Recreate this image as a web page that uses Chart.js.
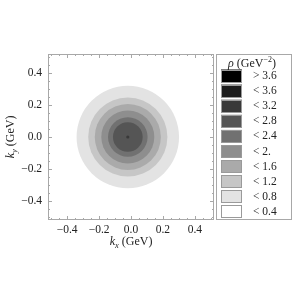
<!DOCTYPE html>
<html>
<head>
<meta charset="utf-8">
<script src="https://cdn.jsdelivr.net/npm/chart.js@4.4.1/dist/chart.umd.min.js"></script>
<style>
  html, body { margin: 0; padding: 0; background: #fff; }
  #wrap { width: 300px; height: 300px; }
</style>
</head>
<body>
<div id="wrap"><canvas id="chart" width="300" height="300"></canvas></div>
<script>
// contour levels of rho and radius (GeV) where each contour sits, outer to inner
const contourLevels = [0.4, 0.8, 1.2, 1.6, 2.0, 2.4, 2.8];
const contourRadii = [0.321, 0.248, 0.207, 0.166, 0.124, 0.093, 0.010];
const centerKx = -0.02;
const centerKy = 0.0;

// legend bands, top to bottom
const legendLabels = ['> 3.6', '< 3.6', '< 3.2', '< 2.8', '< 2.4', '< 2.', '< 1.6', '< 1.2', '< 0.8', '< 0.4'];
const legendColors = ['#000000', '#1c1c1c', '#393939', '#555555', '#717171', '#8e8e8e', '#aaaaaa', '#c6c6c6', '#e3e3e3', '#ffffff'];
const bandUpper = [99, 3.6, 3.2, 2.8, 2.4, 2.0, 1.6, 1.2, 0.8, 0.4];

const xTicks = [-0.4, -0.2, 0, 0.2, 0.4];
const yTicks = [-0.4, -0.2, 0, 0.2, 0.4];
const axisMin = -0.52;
const axisMax = 0.52;

const SERIF = '"Liberation Serif", "DejaVu Serif", serif';
const FRAME = '#a8a8a8';

// disc inside contour L is coloured by the band just above L
function discColor(level) {
    const i = bandUpper.findIndex(u => Math.abs(u - (level + 0.4)) < 1e-6);
    return legendColors[i];
}

const discs = contourLevels.map((lvl, i) => ({ x: centerKx, y: centerKy, rad: contourRadii[i], lvl: lvl }));

function discRadius(ctx) {
    const s = ctx.chart.scales.x;
    if (!s || !ctx.raw) return 0;
    return Math.abs(s.getPixelForValue(ctx.raw.x + ctx.raw.rad) - s.getPixelForValue(ctx.raw.x));
}

function fmtTick(v) {
    if (Math.abs(v) < 1e-9) return '0.0';
    return v.toFixed(1).replace('-', '\u2212');
}

// text with italic k and a subscript
function drawKTitle(c, sub, x, y) {
    const f1 = 'italic 12px ' + SERIF;
    const f2 = 'italic 8.5px ' + SERIF;
    const f3 = '12px ' + SERIF;
    c.font = f1; const w1 = c.measureText('k').width;
    c.font = f2; const w2 = c.measureText(sub).width;
    c.font = f3; const w3 = c.measureText(' (GeV)').width;
    let px = x - (w1 + w2 + w3) / 2;
    c.textBaseline = 'alphabetic';
    c.textAlign = 'left';
    c.font = f1; c.fillText('k', px, y); px += w1;
    c.font = f2; c.fillText(sub, px, y + 2.5); px += w2;
    c.font = f3; c.fillText(' (GeV)', px, y);
}

const framePlugin = {
    id: 'frame',
    afterDraw(chart) {
        const c = chart.ctx;
        const a = chart.chartArea;
        const sx = chart.scales.x, sy = chart.scales.y;
        c.save();
        // frame
        c.strokeStyle = FRAME;
        c.lineWidth = 1;
        c.strokeRect(Math.round(a.left) + 0.5, Math.round(a.top) + 0.5, Math.round(a.right - a.left) - 1, Math.round(a.bottom - a.top) - 1);
        // inward ticks, majors plus three minors in between
        const marks = [];
        xTicks.forEach(v => marks.push([v, 4]));
        for (let k = -10; k <= 10; k++) {
            const v = k * 0.05;
            if (Math.abs(v / 0.2 - Math.round(v / 0.2)) > 1e-6) marks.push([v, 2]);
        }
        c.beginPath();
        marks.forEach(([v, len]) => {
            const px = Math.round(sx.getPixelForValue(v)) + 0.5;
            c.moveTo(px, a.bottom); c.lineTo(px, a.bottom - len);
            c.moveTo(px, a.top); c.lineTo(px, a.top + len);
            const py = Math.round(sy.getPixelForValue(v)) + 0.5;
            c.moveTo(a.left, py); c.lineTo(a.left + len, py);
            c.moveTo(a.right, py); c.lineTo(a.right - len, py);
        });
        c.stroke();

        // axis titles
        c.fillStyle = '#222';
        drawKTitle(c, 'x', (a.left + a.right) / 2, 245);
        c.save();
        c.translate(14, (a.top + a.bottom) / 2);
        c.rotate(-Math.PI / 2);
        drawKTitle(c, 'y', 0, 0);
        c.restore();

        // legend
        const lx = 216.5, ly = 54.5, lw = 75, lh = 165;
        c.strokeStyle = FRAME;
        c.strokeRect(lx, ly, lw, lh);
        c.textBaseline = 'alphabetic';
        c.textAlign = 'left';
        const t1 = 'italic 12px ' + SERIF, t2 = '12px ' + SERIF, t3 = '8px ' + SERIF;
        c.font = t1; const wr = c.measureText('\u03c1').width;
        c.font = t2; const wg = c.measureText(' (GeV').width;
        c.font = t3; const ws = c.measureText('\u22122').width;
        c.font = t2; const wp = c.measureText(')').width;
        let tx = 252 - (wr + wg + ws + wp) / 2;
        const ty = 67;
        c.font = t1; c.fillText('\u03c1', tx, ty); tx += wr;
        c.font = t2; c.fillText(' (GeV', tx, ty); tx += wg;
        c.font = t3; c.fillText('\u22122', tx, ty - 5); tx += ws;
        c.font = t2; c.fillText(')', tx, ty);

        c.font = '11.5px ' + SERIF;
        c.textBaseline = 'middle';
        legendLabels.forEach((lab, i) => {
            const top = 69.5 + i * 15.1;
            c.fillStyle = legendColors[i];
            c.fillRect(221, top, 21, 12.5);
            c.strokeStyle = '#9a9a9a';
            c.strokeRect(221.5, Math.round(top) + 0.5, 20, 12);
            c.fillStyle = '#222';
            c.fillText(lab, 253, top + 6.5);
        });
        c.restore();
    }
};

const tickFont = { family: SERIF, size: 11.5 };

new Chart(document.getElementById('chart'), {
    type: 'scatter',
    data: {
        datasets: [{
            data: discs,
            pointRadius: discRadius,
            pointHoverRadius: discRadius,
            pointBackgroundColor: ctx => ctx.raw ? discColor(ctx.raw.lvl) : '#fff',
            pointBorderWidth: 0,
            pointBorderColor: 'rgba(0,0,0,0)'
        }]
    },
    options: {
        responsive: false,
        animation: false,
        events: [],
        layout: { padding: { left: 0, top: 54, right: 86, bottom: 0 } },
        plugins: { legend: { display: false }, tooltip: { enabled: false } },
        scales: {
            x: {
                type: 'linear', min: axisMin, max: axisMax,
                afterBuildTicks: s => { s.ticks = xTicks.map(v => ({ value: v })); },
                afterFit: s => { s.height = 80; s.paddingLeft = 0; s.paddingRight = 0; },
                grid: { display: false, drawTicks: false },
                border: { display: false },
                ticks: { font: tickFont, color: '#222', padding: 3, maxRotation: 0, autoSkip: false, callback: v => fmtTick(v) }
            },
            y: {
                type: 'linear', min: axisMin, max: axisMax,
                afterBuildTicks: s => { s.ticks = yTicks.map(v => ({ value: v })); },
                afterFit: s => { s.width = 48; s.paddingTop = 0; s.paddingBottom = 0; },
                grid: { display: false, drawTicks: false },
                border: { display: false },
                ticks: { font: tickFont, color: '#222', padding: 6, autoSkip: false, callback: v => fmtTick(v) }
            }
        }
    },
    plugins: [framePlugin]
});
</script>
</body>
</html>
